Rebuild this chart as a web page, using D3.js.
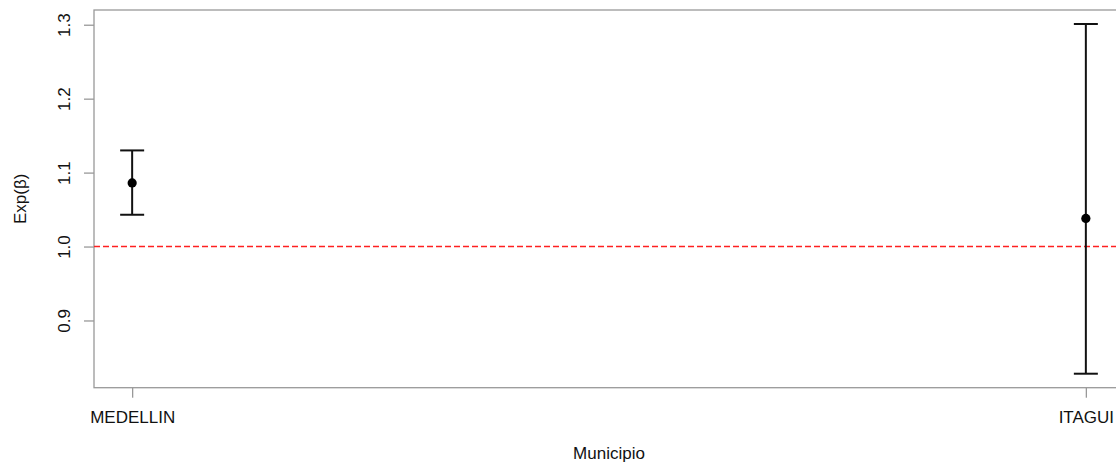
<!DOCTYPE html>
<html>
<head>
<meta charset="utf-8">
<script src="https://cdn.jsdelivr.net/npm/d3@7"></script>
<style>
  html, body { margin: 0; padding: 0; background: #fff; }
  svg { display: block; font-family: "Liberation Sans", Arial, Helvetica, sans-serif; }
</style>
</head>
<body>
<svg id="chart" width="1116" height="472"></svg>
<script>
// Estimated effects by municipality: exp(beta) with confidence interval
const municipios = ["MEDELLIN", "ITAGUI"];
const estimate = [1.086, 1.038];
const lower = [1.043, 0.828];
const upper = [1.130, 1.301];
const yTicks = [0.9, 1.0, 1.1, 1.2, 1.3];
const refLine = 1.0;

const W = 1116, H = 472;
const plot = { left: 94, right: 1124, top: 10, bottom: 387.7 };

const svg = d3.select("#chart");

// R-style 4% axis padding around the data range
const xIdx = municipios.map((d, i) => i + 1);
const xPad = 0.04 * (xIdx[xIdx.length - 1] - xIdx[0]);
const x = d3.scaleLinear()
  .domain([xIdx[0] - xPad, xIdx[xIdx.length - 1] + xPad])
  .range([plot.left, plot.right]);

const yMin = d3.min(lower), yMax = d3.max(upper);
const yPad = 0.04 * (yMax - yMin);
const y = d3.scaleLinear()
  .domain([yMin - yPad, yMax + yPad])
  .range([plot.bottom, plot.top]);

const axisColor = "#999";
const textColor = "#111";

// Plot frame
svg.append("rect")
  .attr("x", plot.left).attr("y", plot.top)
  .attr("width", plot.right - plot.left)
  .attr("height", plot.bottom - plot.top)
  .attr("fill", "none")
  .attr("stroke", axisColor)
  .attr("stroke-width", 1.3);

// Left axis
const yAxis = d3.axisLeft(y)
  .tickValues(yTicks)
  .tickSize(10)
  .tickPadding(0)
  .tickFormat(d3.format(".1f"));
const gy = svg.append("g")
  .attr("transform", `translate(${plot.left},0)`)
  .call(yAxis);
gy.select(".domain").remove();
gy.selectAll(".tick line").attr("stroke", axisColor).attr("stroke-width", 1.3);
gy.selectAll(".tick text")
  .attr("x", 0).attr("y", 0).attr("dy", null)
  .attr("transform", "translate(-24,0) rotate(-90)")
  .attr("text-anchor", "middle")
  .attr("fill", textColor)
  .style("font-size", "17px");

// Bottom axis
const xAxis = d3.axisBottom(x)
  .tickValues(xIdx)
  .tickSize(10)
  .tickPadding(13)
  .tickFormat((d, i) => municipios[i]);
const gx = svg.append("g")
  .attr("transform", `translate(0,${plot.bottom})`)
  .call(xAxis);
gx.select(".domain").remove();
gx.selectAll(".tick line").attr("stroke", axisColor).attr("stroke-width", 1.3);
gx.selectAll(".tick text")
  .attr("fill", textColor)
  .style("font-size", "17px");

// Axis titles
svg.append("text")
  .attr("x", (plot.left + plot.right) / 2)
  .attr("y", 459)
  .attr("text-anchor", "middle")
  .attr("fill", textColor)
  .style("font-size", "17px")
  .text("Municipio");

svg.append("text")
  .attr("transform", `translate(26,${(plot.top + plot.bottom) / 2}) rotate(-90)`)
  .attr("text-anchor", "middle")
  .attr("fill", textColor)
  .style("font-size", "17px")
  .text("Exp(β)");

// Reference line at exp(beta) = 1
svg.append("line")
  .attr("x1", plot.left).attr("x2", plot.right)
  .attr("y1", y(refLine)).attr("y2", y(refLine))
  .attr("stroke", "#ff2020")
  .attr("stroke-width", 1.6)
  .attr("stroke-dasharray", "6,3");

// Confidence intervals with caps
const data = municipios.map((m, i) => ({ m, xi: xIdx[i], est: estimate[i], lo: lower[i], hi: upper[i] }));
const capHalf = 12;
const ink = "#111";

const bars = svg.append("g");
bars.selectAll("line.ci")
  .data(data).enter().append("line")
  .attr("x1", d => x(d.xi)).attr("x2", d => x(d.xi))
  .attr("y1", d => y(d.lo)).attr("y2", d => y(d.hi))
  .attr("stroke", ink).attr("stroke-width", 2);
bars.selectAll("line.capHi")
  .data(data).enter().append("line")
  .attr("x1", d => x(d.xi) - capHalf).attr("x2", d => x(d.xi) + capHalf)
  .attr("y1", d => y(d.hi)).attr("y2", d => y(d.hi))
  .attr("stroke", ink).attr("stroke-width", 2);
bars.selectAll("line.capLo")
  .data(data).enter().append("line")
  .attr("x1", d => x(d.xi) - capHalf).attr("x2", d => x(d.xi) + capHalf)
  .attr("y1", d => y(d.lo)).attr("y2", d => y(d.lo))
  .attr("stroke", ink).attr("stroke-width", 2);
bars.selectAll("circle")
  .data(data).enter().append("circle")
  .attr("cx", d => x(d.xi)).attr("cy", d => y(d.est))
  .attr("r", 4.6)
  .attr("fill", "#000");
</script>
</body>
</html>
